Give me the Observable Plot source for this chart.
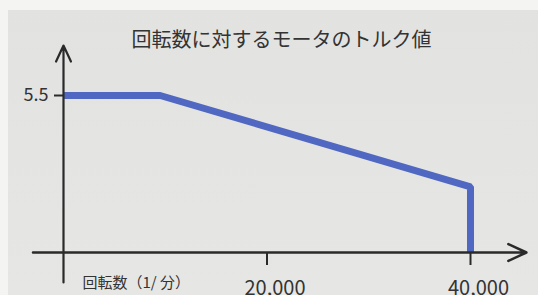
<!DOCTYPE html>
<html><head><meta charset="utf-8">
<script src="https://cdn.jsdelivr.net/npm/d3@7"></script>
<script src="https://cdn.jsdelivr.net/npm/@observablehq/plot@0.6"></script>
<style>
html,body{margin:0;padding:0;background:#f4f5f3;}
#chart{width:538px;height:295px;overflow:hidden;}
</style></head>
<body><div id="chart"></div>
<script>
// ---- data ----
const title = "回転数に対するモータのトルク値";
const xLabel = "回転数（1/ 分）";
const rpm = [0, 9500, 40000, 40000];
const torque = [5.5, 5.5, 2.3, 0];
const xTicks = [20000, 40000];
const xTickLabels = ["20,000", "40,000"];
const yTicks = [5.5];
const yTickLabels = ["5.5"];

const series = rpm.map((r, i) => ({rpm: r, torque: torque[i]}));
const font = "'Noto Sans CJK JP', 'Noto Sans', sans-serif";
const ink = "#2a2a2a";
const xFmt = (d) => xTickLabels[xTicks.indexOf(d)];

const chart = Plot.plot({
  width: 538,
  height: 295,
  marginLeft: 63,
  marginRight: 68,
  marginTop: 95,
  marginBottom: 43,
  style: {
    fontFamily: font,
    color: "#333",
    overflow: "visible",
    background: "linear-gradient(#f4f5f3,#f4f5f3) top left/100% 10px no-repeat, linear-gradient(#f4f5f3,#f4f5f3) top left/8px 100% no-repeat, linear-gradient(#e2e3e1,#e6e7e5)"
  },
  x: {domain: [0, 40000]},
  y: {domain: [0, 5.5]},
  marks: [
    Plot.line(series, {x: "rpm", y: "torque", stroke: "#5068c2", strokeWidth: 7, strokeLinejoin: "miter", strokeLinecap: "butt"}),
    // axes with arrow heads
    Plot.arrow([0], {x1: () => -3000, x2: () => 45500, y1: () => 0, y2: () => 0, stroke: ink, strokeWidth: 2.5, headLength: 12, headAngle: 50}),
    Plot.arrow([0], {x1: () => 0, x2: () => 0, y1: () => -1.05, y2: () => 7.25, stroke: ink, strokeWidth: 2.2, headLength: 12, headAngle: 50}),
    Plot.axisX({ticks: xTicks, tickFormat: () => "", tickSize: 13, stroke: ink, strokeWidth: 2, label: null}),
    Plot.axisX({ticks: xTicks, tickFormat: xFmt, tickSize: 0, tickPadding: 28, fontSize: 20, dx: 8, label: null, fill: "#333"}),
    Plot.axisY({ticks: yTicks, tickFormat: (d) => yTickLabels[yTicks.indexOf(d)], tickSize: 9, tickPadding: 6, fontSize: 18, stroke: ink, strokeWidth: 2, label: null, fill: "#333"}),
    Plot.text([xLabel], {x: () => 0, y: () => 0, dx: 19, dy: 31, text: (d) => d, textAnchor: "start", lineAnchor: "middle", fontSize: 15, fill: "#333"}),
    Plot.text([title], {frameAnchor: "top-left", dx: 218, dy: -55, text: (d) => d, textAnchor: "middle", lineAnchor: "middle", fontSize: 20, fill: "#333"})
  ]
});
document.getElementById("chart").appendChild(chart);
</script>
</body></html>
